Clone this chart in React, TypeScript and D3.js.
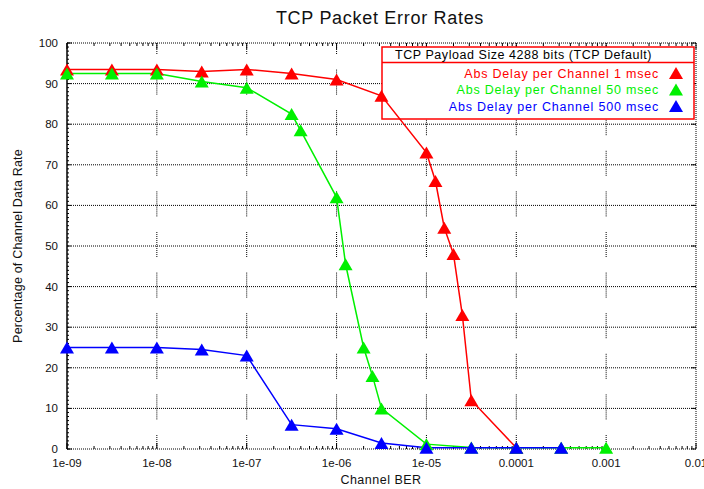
import React from "react";
import * as d3 from "d3";

// Channel bit error rate (x) and percentage of channel data rate (y) per series
const berRed = [1e-9, 3.16e-9, 1e-8, 3.16e-8, 1e-7, 3.16e-7, 1e-6, 3.16e-6, 1e-5, 1.26e-5, 1.58e-5, 2e-5, 2.51e-5, 3.16e-5, 1e-4];
const pctRed = [93.5, 93.5, 93.5, 93, 93.5, 92.5, 91, 87, 73, 66, 54.5, 48, 33, 12, 0.3];

const berGreen = [1e-9, 3.16e-9, 1e-8, 3.16e-8, 1e-7, 3.16e-7, 3.98e-7, 1e-6, 1.26e-6, 2e-6, 2.51e-6, 3.16e-6, 1e-5, 3.16e-5, 1e-4, 3.16e-4, 1e-3];
const pctGreen = [92.5, 92.5, 92.5, 90.5, 89, 82.5, 78.5, 62, 45.5, 25, 18, 10, 1.2, 0.4, 0.3, 0.3, 0.3];

const berBlue = [1e-9, 3.16e-9, 1e-8, 3.16e-8, 1e-7, 3.16e-7, 1e-6, 3.16e-6, 1e-5, 3.16e-5, 1e-4, 3.16e-4];
const pctBlue = [25, 25, 25, 24.5, 23, 6, 5, 1.5, 0.3, 0.3, 0.3, 0.3];

const seriesNames = [
  "Abs Delay per Channel 1 msec",
  "Abs Delay per Channel 50 msec",
  "Abs Delay per Channel 500 msec",
];
const seriesColors = ["#ff0000", "#00f000", "#0000ff"];

const xTickValues = [1e-9, 1e-8, 1e-7, 1e-6, 1e-5, 1e-4, 1e-3, 1e-2];
const xTickLabels = ["1e-09", "1e-08", "1e-07", "1e-06", "1e-05", "0.0001", "0.001", "0.01"];
const yTickValues = [0, 10, 20, 30, 40, 50, 60, 70, 80, 90, 100];

const title = "TCP Packet Error Rates";
const xTitle = "Channel BER";
const yTitle = "Percentage of Channel Data Rate";
const legendHeader = "TCP Payload Size 4288 bits (TCP Default)";

const W = 704;
const H = 489;
const left = 67;
const right = 696;
const top = 43;
const bottom = 449;
const FONT = "'Liberation Sans', Arial, Helvetica, sans-serif";

function triangle(cx: number, cy: number, w = 14, h = 12) {
  return `M${cx},${cy - h / 2}L${cx + w / 2},${cy + h / 2}L${cx - w / 2},${cy + h / 2}Z`;
}

export default function App() {
  const x = d3.scaleLog().domain([1e-9, 1e-2]).range([left, right]);
  const y = d3.scaleLinear().domain([0, 100]).range([bottom, top]);

  const series = [
    { ber: berRed, pct: pctRed },
    { ber: berGreen, pct: pctGreen },
    { ber: berBlue, pct: pctBlue },
  ];

  const line = d3
    .line<[number, number]>()
    .x((d) => x(d[0]))
    .y((d) => y(d[1]));

  // minor log positions along x
  const minorX: number[] = [];
  for (let e = -9; e < -2; e++) {
    for (let m = 2; m <= 9; m++) minorX.push(m * Math.pow(10, e));
  }
  const minorY = d3.range(0, 101, 1);

  const dot = "1,1";

  return (
    <svg
      width={W}
      height={H}
      style={{ position: "absolute", left: 0, top: 0, background: "#fff" }}
      fontFamily={FONT}
    >
      <rect x={0} y={0} width={W} height={H} fill="#fff" />

      {/* title */}
      <text x={380} y={24} textAnchor="middle" fontSize={18} letterSpacing={0.7} fill="#111">
        {title}
      </text>

      {/* horizontal grid lines */}
      {yTickValues.slice(1, -1).map((v) => (
        <line
          key={"hg" + v}
          x1={left + 6}
          x2={right}
          y1={y(v)}
          y2={y(v)}
          stroke="#000"
          strokeWidth={1}
          strokeDasharray={dot}
        />
      ))}

      {/* vertical grid lines, drawn as dotted segments around each horizontal grid line */}
      {xTickValues.slice(1, -1).map((v) =>
        yTickValues.map((t) => {
          const y1 = Math.max(top, y(t) - 14);
          const y2 = Math.min(bottom, y(t) + 12);
          return (
            <line
              key={"vg" + v + "-" + t}
              x1={x(v)}
              x2={x(v)}
              y1={y1}
              y2={y2}
              stroke="#000"
              strokeWidth={1}
              strokeDasharray={dot}
            />
          );
        })
      )}

      {/* top, bottom and right borders (dotted) */}
      <line x1={left} x2={right} y1={top} y2={top} stroke="#000" strokeDasharray={dot} />
      <line x1={left} x2={right} y1={bottom} y2={bottom} stroke="#000" strokeDasharray={dot} />
      <line x1={right} x2={right} y1={top} y2={bottom} stroke="#000" strokeDasharray={dot} />

      {/* minor ticks on bottom and top borders */}
      {minorX.map((v, i) => (
        <g key={"mx" + i}>
          <line x1={x(v)} x2={x(v)} y1={bottom} y2={bottom - 3} stroke="#000" />
          <line x1={x(v)} x2={x(v)} y1={top} y2={top + 3} stroke="#000" />
        </g>
      ))}
      {xTickValues.map((v, i) => (
        <g key={"Mx" + i}>
          <line x1={x(v)} x2={x(v)} y1={bottom} y2={bottom - 6} stroke="#000" />
          <line x1={x(v)} x2={x(v)} y1={top} y2={top + 6} stroke="#000" />
        </g>
      ))}

      {/* left axis with minor ticks */}
      <line x1={left} x2={left} y1={top} y2={bottom} stroke="#000" strokeWidth={1.5} />
      {minorY.map((v) => (
        <line key={"my" + v} x1={left} x2={left + 2} y1={y(v)} y2={y(v)} stroke="#000" />
      ))}
      {yTickValues.map((v) => (
        <g key={"My" + v}>
          <line x1={left} x2={left + 5} y1={y(v)} y2={y(v)} stroke="#000" />
          <line x1={right} x2={right - 5} y1={y(v)} y2={y(v)} stroke="#000" />
        </g>
      ))}

      {/* y tick labels */}
      {yTickValues.map((v) => (
        <text
          key={"yl" + v}
          x={left - 9}
          y={y(v) + 4}
          textAnchor="end"
          fontSize={11.5}
          fill="#111"
        >
          {v}
        </text>
      ))}

      {/* x tick labels */}
      {xTickValues.map((v, i) => (
        <text
          key={"xl" + i}
          x={x(v)}
          y={467}
          textAnchor="middle"
          fontSize={11.5}
          fill="#111"
        >
          {xTickLabels[i]}
        </text>
      ))}

      {/* axis titles */}
      <text x={381} y={484} textAnchor="middle" fontSize={12.5} letterSpacing={0.5} fill="#111">
        {xTitle}
      </text>
      <text
        transform={`translate(22,${(top + bottom) / 2}) rotate(-90)`}
        textAnchor="middle"
        fontSize={12.5}
        letterSpacing={0.2}
        fill="#111"
      >
        {yTitle}
      </text>

      {/* legend (drawn beneath the data) */}
      <g>
        <rect x={382} y={47} width={312} height={72} fill="#fff" stroke="#ff0000" strokeWidth={1.5} />
        <line x1={382} x2={694} y1={62.5} y2={62.5} stroke="#ff0000" strokeWidth={1.5} />
        <text x={395} y={59} fontSize={12.5} letterSpacing={0.55} fill="#000">
          {legendHeader}
        </text>
        {seriesNames.map((name, i) => {
          const ry = 73 + i * 16.5;
          return (
            <g key={"lg" + i}>
              <text
                x={659}
                y={ry + 4.5}
                textAnchor="end"
                fontSize={12.5}
                letterSpacing={0.8}
                fill={seriesColors[i]}
              >
                {name}
              </text>
              <path d={triangle(676, ry)} fill={seriesColors[i]} />
            </g>
          );
        })}
      </g>

      {/* series lines */}
      {series.map((s, si) => (
        <path
          key={"ln" + si}
          d={line(s.ber.map((b, i) => [b, s.pct[i]] as [number, number])) || ""}
          fill="none"
          stroke={seriesColors[si]}
          strokeWidth={1.5}
        />
      ))}

      {/* series markers */}
      {series.map((s, si) => (
        <g key={"mk" + si} fill={seriesColors[si]}>
          {s.ber.map((b, i) => (
            <path key={i} d={triangle(x(b), y(s.pct[i]))} />
          ))}
        </g>
      ))}
    </svg>
  );
}
